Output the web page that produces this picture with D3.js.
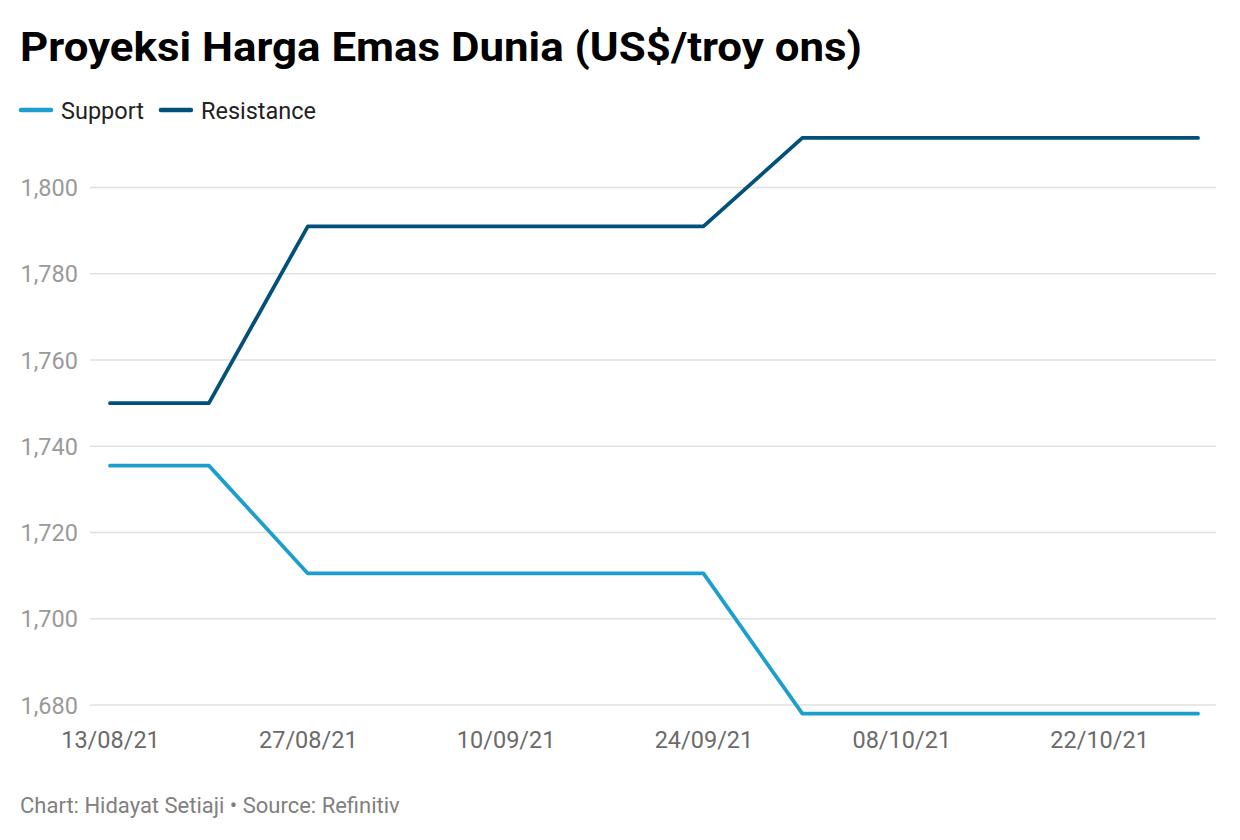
<!DOCTYPE html>
<html><head><meta charset="utf-8">
<script src="https://cdn.jsdelivr.net/npm/d3@7"></script>
<style>
body{margin:0;background:#fff;font-family:Roboto,"Noto Sans",sans-serif;}
svg{display:block;}
</style></head><body>
<svg id="c" width="1240" height="840"></svg>
<script>
const dates = ["13/08/21","20/08/21","27/08/21","03/09/21","10/09/21","17/09/21","24/09/21","01/10/21","08/10/21","15/10/21","22/10/21","29/10/21"];
const support = [1735.5,1735.5,1710.5,1710.5,1710.5,1710.5,1710.5,1678,1678,1678,1678,1678];
const resistance = [1750,1750,1791,1791,1791,1791,1791,1811.5,1811.5,1811.5,1811.5,1811.5];
const yTicks = [1680,1700,1720,1740,1760,1780,1800];
const xTickLabels = ["13/08/21","27/08/21","10/09/21","24/09/21","08/10/21","22/10/21"];
const seriesNames = ["Support","Resistance"];
const colors = ["#1d9fcd","#03507a"];

const parse = d3.timeParse("%d/%m/%y");
const fmt = d3.timeFormat("%d/%m/%y");
const svg = d3.select("#c");

const x = d3.scaleTime().domain([parse(dates[0]), parse(dates[dates.length-1])]).range([110,1198]);
const y = d3.scaleLinear().domain([1680,1800]).range([705,187.5]);

svg.append("text").attr("x",20).attr("y",61).attr("font-size",40).attr("font-weight",700)
  .attr("fill","#000").attr("textLength",842).attr("lengthAdjust","spacingAndGlyphs")
  .text("Proyeksi Harga Emas Dunia (US$/troy ons)");

// legend
let lx = 21;
seriesNames.forEach((n,i)=>{
  svg.append("line").attr("x1",lx).attr("x2",lx+30).attr("y1",110).attr("y2",110)
    .attr("stroke",colors[i]).attr("stroke-width",4.5).attr("stroke-linecap","round");
  const t = svg.append("text").attr("x",lx+40).attr("y",119).attr("font-size",23.5).attr("fill","#222").text(n);
  lx += 40 + t.node().getComputedTextLength() + 17;
});

// grid
svg.append("g").selectAll("line").data(yTicks).join("line")
  .attr("x1",90).attr("x2",1216).attr("y1",d=>y(d)).attr("y2",d=>y(d))
  .attr("stroke","#e0e0e0").attr("stroke-width",1.5);

// y axis
const yAxis = d3.axisLeft(y).tickValues(yTicks).tickFormat(d3.format(",")).tickSize(0).tickPadding(0);
const ga = svg.append("g").attr("transform","translate(78,0)").call(yAxis);
ga.select(".domain").remove();
ga.selectAll("text").attr("font-size",23.5).attr("fill","#9a9a9a").attr("font-family","Roboto").attr("x",0).attr("dy","0.35em");

// x axis
const xAxis = d3.axisBottom(x).tickValues(xTickLabels.map(parse)).tickFormat(fmt).tickSize(0).tickPadding(0);
const gx = svg.append("g").attr("transform","translate(0,748)").call(xAxis);
gx.select(".domain").remove();
gx.selectAll("text").attr("font-size",23.5).attr("fill","#6b6b6b").attr("font-family","Roboto").attr("y",0).attr("dy",0);

// lines
const line = d3.line().x((d,i)=>x(parse(dates[i]))).y(d=>y(d));
[support,resistance].forEach((s,i)=>{
  svg.append("path").datum(s).attr("d",line).attr("fill","none")
    .attr("stroke",colors[i]).attr("stroke-width",3.8).attr("stroke-linejoin","round").attr("stroke-linecap","round");
});

svg.append("text").attr("x",20).attr("y",813).attr("font-size",22).attr("fill","#808080")
  .text("Chart: Hidayat Setiaji • Source: Refinitiv");
</script>
</body></html>
